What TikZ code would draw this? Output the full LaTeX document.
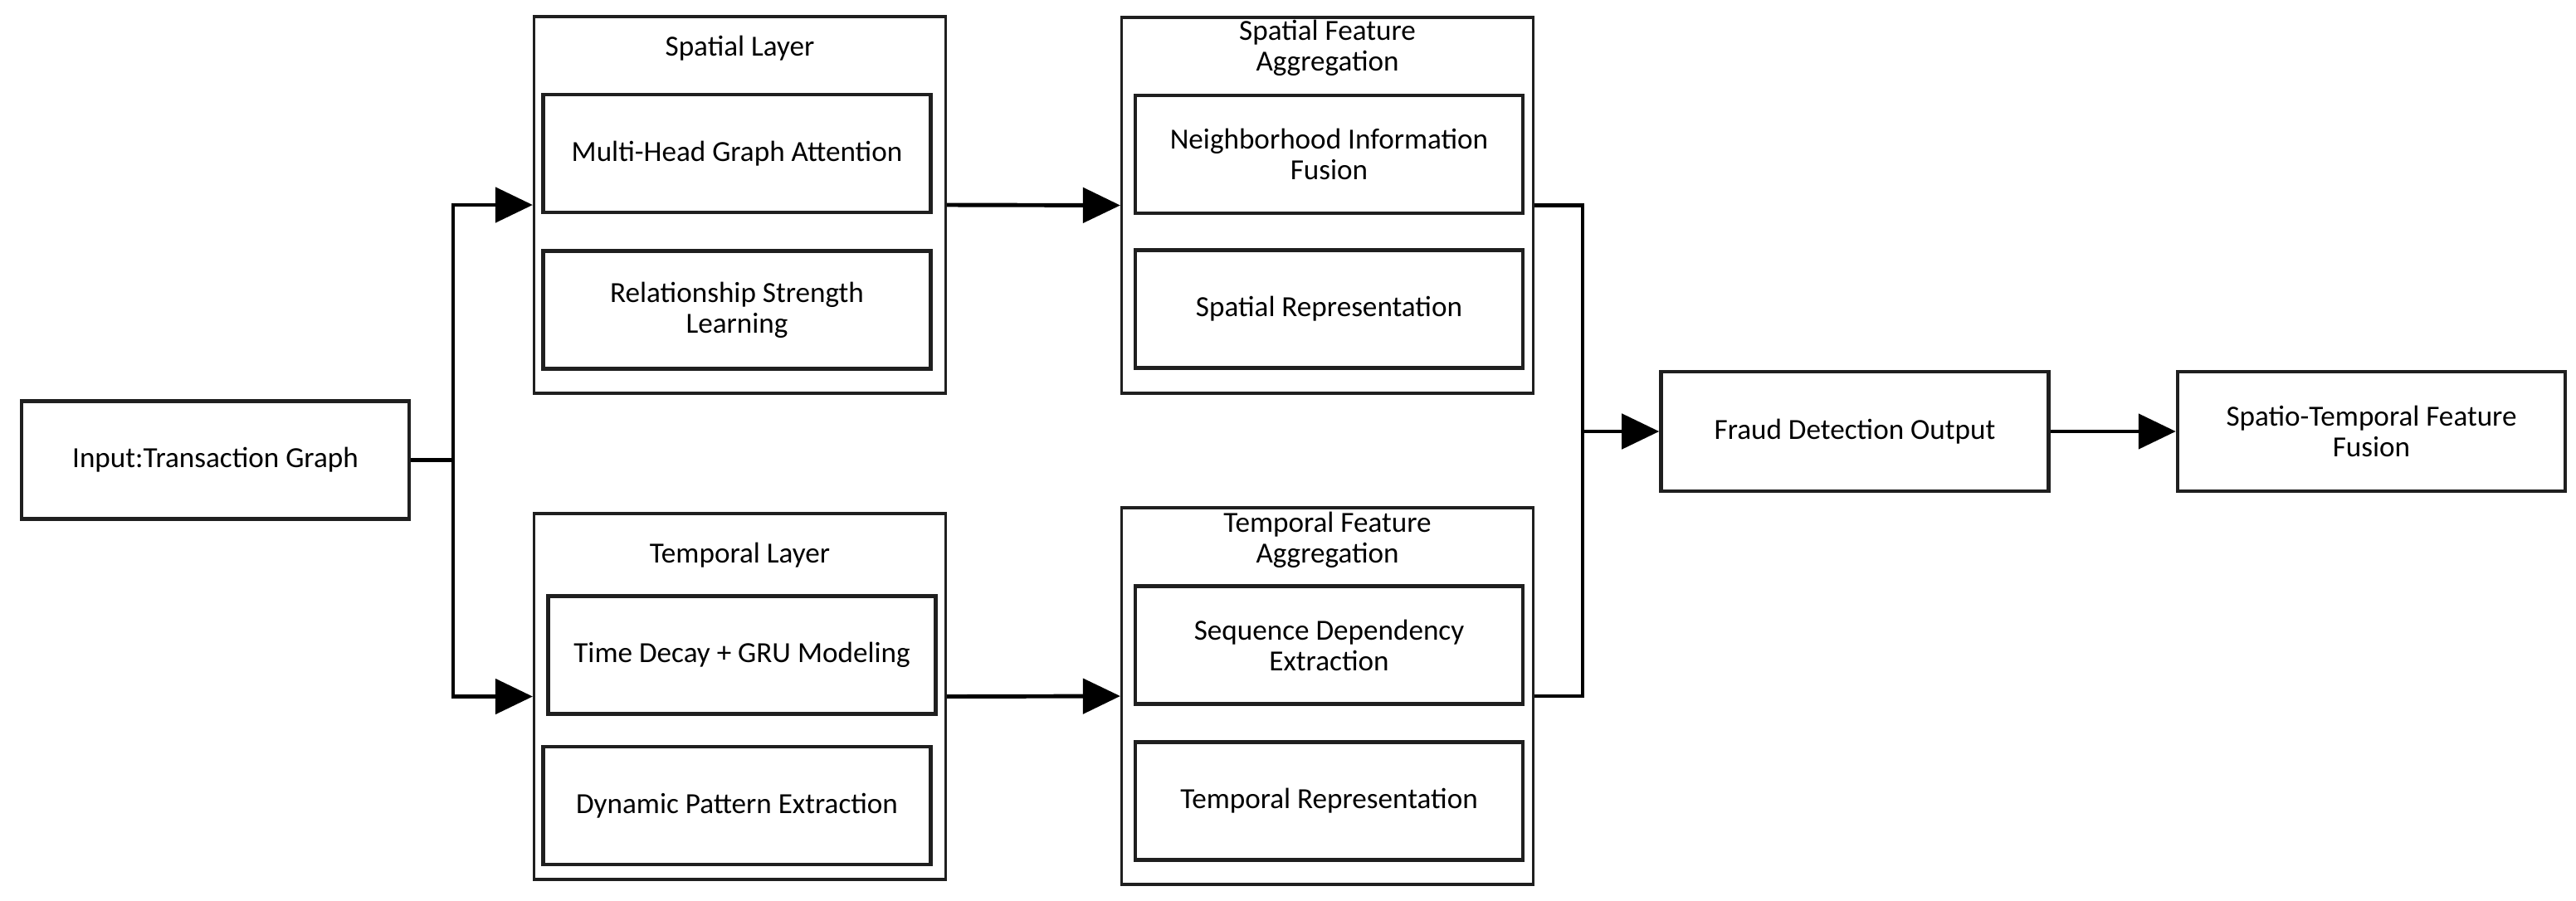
\documentclass[tikz,border=0pt]{standalone}
\usepackage{fontspec}
\setmainfont{Carlito}
\usetikzlibrary{arrows.meta,positioning}

\begin{document}
\begin{tikzpicture}[every node/.style={font=\fontsize{10}{10.5}\selectfont}, outer/.style={draw=black!88,line width=0.9pt,minimum width=4.96cm,inner sep=0pt}, box/.style={draw=black!88,line width=1.3pt,align=center,minimum width=4.67cm,minimum height=1.42cm,inner sep=0pt}, ttl/.style={align=center,inner sep=0pt}, arr/.style={-{Triangle[length=4.5mm,width=4.2mm]},line width=1.4pt}, link/.style={line width=1.4pt}]
\useasboundingbox (0,0) rectangle (31.04,-10.85);
% outer layer boxes
\node[outer,minimum height=4.54cm] (spatial) at (8.915,-2.47) {};
\node[outer,minimum height=4.41cm] (temporal) at (8.915,-8.395) {};
\node[outer,minimum height=4.53cm] (sagg) at (15.995,-2.475) {};
\node[outer,minimum height=4.54cm] (tagg) at (15.995,-8.39) {};
% titles
\node[ttl] (spatialtitle) at (8.915,-0.58) {Spatial Layer};
\node[ttl] (temporaltitle) at (8.915,-6.69) {Temporal Layer};
\node[ttl] (saggtitle) at (15.995,-0.58) {Spatial Feature\\Aggregation};
\node[ttl] (taggtitle) at (15.995,-6.51) {Temporal Feature\\Aggregation};
% inner boxes
\node[box] (input) at (2.595,-5.545) {Input:Transaction Graph};
\node[box] (mhga) at (8.88,-1.85) {Multi-Head Graph Attention};
\node[box] (rsl) at (8.88,-3.735) {Relationship Strength\\Learning};
\node[box] (tdgru) at (8.94,-7.895) {Time Decay + GRU Modeling};
\node[box] (dpe) at (8.88,-9.71) {Dynamic Pattern Extraction};
\node[box] (nif) at (16.015,-1.86) {Neighborhood Information\\Fusion};
\node[box] (srep) at (16.015,-3.725) {Spatial Representation};
\node[box] (sde) at (16.015,-7.775) {Sequence Dependency\\Extraction};
\node[box] (trep) at (16.015,-9.655) {Temporal Representation};
\node[box,minimum height=1.44cm] (fraud) at (22.35,-5.2) {Fraud Detection Output};
\node[box,minimum height=1.44cm] (stff) at (28.575,-5.2) {Spatio-Temporal Feature\\Fusion};
% connectors
\coordinate (split) at (5.46,-5.545);
\coordinate (join) at (19.07,-5.2);
\draw[link] (input.east) -- (split);
\draw[arr] (split) |- (spatial.west);
\draw[arr] (split) |- (temporal.west);
\draw[arr] (spatial.east) -- (sagg.west);
\draw[arr] (temporal.east) -- (tagg.west);
\draw[link] (sagg.east) -| (join) |- (tagg.east);
\draw[arr] (join) -- (fraud.west);
\draw[arr] (fraud.east) -- (stff.west);
\end{tikzpicture}
\end{document}
